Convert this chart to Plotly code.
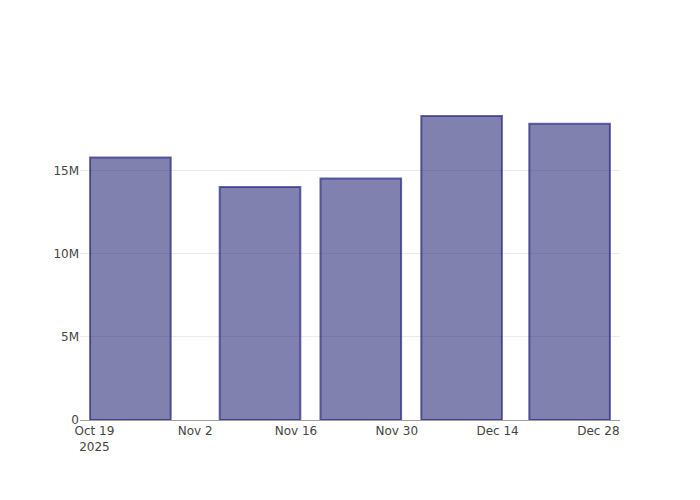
import plotly.graph_objects as go

dates = ["2025-10-24", "2025-11-11", "2025-11-25", "2025-12-09", "2025-12-24"]
values = [15.8e6, 14.02e6, 14.54e6, 18.3e6, 17.83e6]

fig = go.Figure(
    go.Bar(
        x=dates,
        y=values,
        marker=dict(
            color="rgba(25,25,112,0.55)",
            line=dict(color="rgba(40,40,130,0.7)", width=2),
        ),
    )
)

# page body has an 8px margin; compensate so the plot area sits at 80..620 x 100..420
fig.update_layout(
    template="plotly_white",
    width=692,
    height=492,
    margin=dict(l=72, r=80, t=92, b=80),
    showlegend=False,
    font=dict(family="DejaVu Sans", color="#444"),
)
fig.update_xaxes(
    range=["2025-10-17", "2025-12-31"],
    showline=True,
    linecolor="#a0a0a0",
    linewidth=1,
    showgrid=False,
)
fig.update_yaxes(zeroline=False, gridcolor="#ebebeb")

fig.write_html("out.html")
